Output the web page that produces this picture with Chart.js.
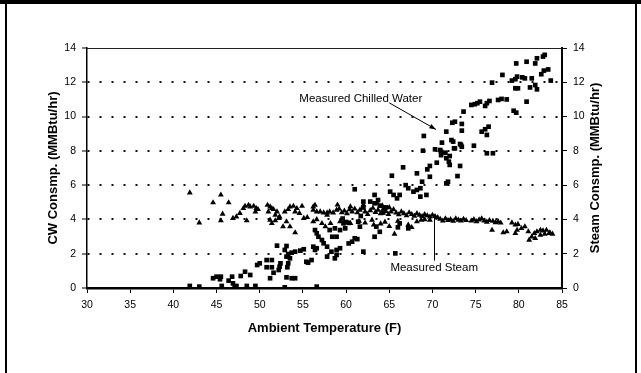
<!DOCTYPE html>
<html>
<head>
<meta charset="utf-8">
<script src="https://cdn.jsdelivr.net/npm/chart.js@4.4.0/dist/chart.umd.min.js"></script>
<style>
  html, body { margin: 0; padding: 0; background: #fff; }
  #wrap { width: 641px; height: 373px; }
</style>
</head>
<body>
<div id="wrap"><canvas id="c" width="641" height="373"></canvas></div>
<script>
// chilled water points (ambient temp F, MMBtu/hr)
const cwTemp = [
  41.9, 43.0, 44.6, 45.0, 45.4, 45.5, 45.6, 46.4, 46.8, 46.9, 47.1, 47.3, 47.8, 48.3, 48.9, 48.5, 49.5,
  49.7, 50.0, 50.8, 51.4, 50.8, 51.4, 51.2, 51.6, 52.0, 53.1, 52.2, 52.3, 52.4, 53.5, 53.3, 53.2, 53.1,
  54.1, 53.7, 52.9, 53.3, 53.1, 53.7, 54.1, 54.7, 55.1, 55.4, 56.0, 55.6, 56.2, 56.6, 56.4, 57.8, 58.3,
  58.9, 58.7, 56.4, 56.6, 56.8, 57.2, 57.4, 57.8, 58.1, 58.7, 58.4, 56.6, 52.9,
  59.7, 59.9, 59.3, 61.6, 61.4, 63.5, 63.9, 63.3, 66.2, 66.0, 67.2, 61.0, 60.7, 60.3, 59.3, 58.9, 62.0,
  65.7, 58.9, 61.0, 62.0, 63.3, 63.7, 62.8, 63.3, 65.1, 65.5, 66.2, 65.9, 66.9, 67.2, 67.8, 68.2, 68.6,
  69.3, 68.6, 68.8, 69.7, 68.2, 66.6, 68.9, 69.4, 69.7, 70.5, 71.6, 71.9, 72.0, 71.0, 71.0, 71.1, 72.4,
  73.3, 74.8, 72.6, 73.2, 72.9, 71.8, 71.6, 65.3, 60.0, 59.6, 60.3, 61.7, 62.0, 63.9, 64.3, 64.6, 61.3,
  83.0, 82.8, 82.1, 80.9, 81.9, 79.7, 83.4, 82.9, 82.6, 78.1, 79.8, 80.4, 80.7, 81.5, 79.2, 79.6, 83.7,
  76.9, 79.6, 79.9, 81.3, 81.9, 82.1, 80.9, 78.0, 78.6, 77.6, 76.6, 76.3, 75.5, 75.2, 74.5, 74.9, 76.1,
  79.4, 79.7, 73.6, 72.6, 72.3, 73.4, 73.4, 71.6, 69.0, 76.5, 76.1, 75.7, 76.3, 72.2, 73.2, 73.4, 72.5,
  76.3, 77.0, 70.3, 70.9, 71.5, 72.0
];
const cwLoad = [
  0.12, 0.08, 0.57, 0.66, 0.51, 0.66, 0.12, 0.43, 0.66, 0.27, 0.04, 0.12, 0.70, 0.95, 0.76, 0.12, 0.12,
  1.34, 1.44, 1.63, 1.63, 1.21, 1.21, 0.57, 0.89, 2.47, 2.45, 1.05, 1.24, 1.44, 1.73, 1.44, 1.21, 0.62,
  0.57, 0.57, 2.22, 1.98, 1.83, 2.06, 2.12, 2.18, 2.26, 1.53, 1.63, 1.48, 2.41, 2.32, 2.22, 1.83, 2.12,
  1.93, 1.73, 3.38, 3.19, 2.99, 2.80, 2.61, 2.41, 3.38, 3.48, 2.99, 0.08, 0.04,
  3.77, 3.48, 3.38, 3.58, 3.87, 3.58, 3.28, 2.99, 3.77, 3.54, 3.48, 2.90, 2.70, 2.60, 2.32, 2.22, 2.12,
  2.02, 2.99, 5.76, 5.04, 5.43, 5.13, 5.04, 4.94, 5.62, 5.43, 5.43, 5.23, 6.00, 5.82, 5.62, 5.72, 5.82,
  5.43, 5.33, 6.20, 6.49, 6.69, 7.04, 8.01, 6.92, 7.12, 7.31, 7.57, 7.37, 7.18, 7.95, 7.75, 8.48, 8.54,
  8.34, 8.30, 8.15, 7.12, 6.53, 6.20, 6.10, 6.55, 3.85, 4.05, 3.80, 4.20, 4.70, 4.80, 4.40, 4.70, 2.85,
  13.60, 13.50, 13.40, 13.20, 13.10, 13.10, 12.75, 12.68, 12.47, 12.43, 12.33, 12.29, 12.23, 12.23, 12.10, 12.18, 12.10,
  11.98, 11.65, 11.65, 11.70, 11.84, 11.59, 10.87, 11.03, 11.00, 10.97, 10.91, 10.78, 10.87, 10.78, 10.68, 10.72, 10.62,
  10.34, 10.23, 10.29, 9.70, 9.64, 9.57, 9.18, 9.12, 8.87, 9.41, 9.26, 9.12, 8.93, 8.63, 8.40, 8.24, 8.15,
  7.86, 7.86, 8.09, 8.05, 7.89, 7.70
];

// steam points (ambient temp F, MMBtu/hr)
const stTemp = [
  41.9, 43.0, 44.6, 45.5, 46.4, 45.7, 45.5, 46.9, 47.3, 47.7, 48.1, 48.3, 48.7, 48.9, 49.3, 49.6, 49.5,
  49.8, 48.5, 50.9, 51.2, 51.0, 51.4, 51.6, 52.0, 51.8, 52.3, 52.2, 51.8, 51.2, 51.4, 52.9, 53.3, 53.5,
  53.9, 54.3, 54.1, 54.6, 54.9, 53.1, 52.7, 53.5, 54.1, 55.1, 55.5, 56.2, 56.4, 56.2, 56.6, 57.0, 57.4,
  57.8, 58.1, 58.5, 58.9, 57.8, 56.2, 56.6, 57.2, 57.6, 58.2,
  59.2, 59.5, 59.8, 60.1, 60.4, 60.7, 61.0, 61.3, 61.6, 61.9, 62.2, 62.5, 62.8, 63.1, 63.4, 63.7, 64.0,
  64.3, 64.6, 64.9, 65.2, 65.5, 65.8, 66.1, 66.4, 66.7, 67.0, 67.3, 67.6, 67.9, 68.2, 68.5, 68.8, 69.1,
  69.4, 69.7, 70.0, 70.3, 70.6, 59.0, 60.5, 62.0, 63.6, 64.2, 65.0,
  59.3, 60.5, 63.0, 63.2, 65.6, 67.2, 67.6, 68.2, 68.7, 69.1, 69.7, 61.5, 62.2, 64.5, 66.0, 65.0, 64.0,
  70.9, 71.2, 71.5, 71.8, 72.1, 72.4, 72.7, 73.0, 73.3, 73.6, 73.9, 74.5, 74.8, 75.1, 75.4, 75.7, 76.0,
  76.3, 76.6, 77.0, 77.3, 77.6, 77.9,
  76.9, 78.2, 78.6, 79.2, 79.6, 79.9, 79.8, 79.6, 80.3, 80.7, 81.1, 81.2, 81.5, 81.8, 82.1, 82.5, 82.8,
  83.2, 83.6, 83.9, 81.9, 82.5, 83.0, 83.5
];
const stLoad = [
  5.56, 3.81, 4.98, 5.43, 4.98, 4.32, 3.93, 4.07, 4.16, 4.36, 4.65, 4.78, 4.84, 4.74, 4.78, 4.65, 4.45,
  4.59, 3.93, 4.84, 4.74, 4.45, 4.65, 4.59, 4.45, 4.26, 4.16, 4.07, 3.93, 3.97, 3.77, 4.45, 4.59, 4.74,
  4.78, 4.65, 4.45, 4.36, 4.78, 3.87, 3.58, 3.58, 3.23, 4.07, 4.12, 4.74, 4.84, 4.55, 4.45, 4.45, 4.39,
  4.39, 4.45, 4.39, 4.55, 4.26, 3.87, 4.00, 3.77, 3.58, 3.77,
  4.62, 4.40, 4.50, 4.35, 4.58, 4.45, 4.62, 4.40, 4.55, 4.68, 4.45, 4.30, 4.52, 4.66, 4.42, 4.55, 4.35,
  4.60, 4.48, 4.30, 4.45, 4.58, 4.38, 4.28, 4.45, 4.35, 4.22, 4.40, 4.30, 4.20, 4.35, 4.25, 4.18, 4.30,
  4.22, 4.15, 4.25, 4.18, 4.12, 4.85, 4.75, 4.85, 4.95, 4.80, 4.70,
  3.87, 3.77, 3.97, 3.68, 3.15, 3.68, 3.54, 3.87, 3.97, 4.00, 3.97, 3.90, 3.80, 3.85, 3.90, 3.60, 3.75,
  4.02, 3.92, 4.05, 3.95, 4.00, 3.90, 4.05, 3.97, 3.92, 4.02, 3.95, 3.92, 4.00, 3.88, 3.98, 4.05, 3.92,
  3.85, 3.95, 3.90, 3.82, 3.88, 3.80,
  3.38, 3.23, 3.29, 3.81, 3.68, 3.72, 3.38, 3.19, 3.48, 3.58, 3.29, 2.80, 2.99, 3.19, 3.29, 3.38, 3.34,
  3.38, 3.23, 3.15, 2.90, 3.09, 3.15, 3.19
];

const xTicks = { min: 30, max: 85, step: 5 };
const yTicks = { min: 0, max: 14, step: 2 };

// callouts, in data units
const cwNote = { text: 'Measured Chilled Water', x: 61.7, y: 11.05, fromX: 65.0, fromY: 10.8, toX: 70.4, toY: 9.25 };
const stNote = { text: 'Measured Steam', x: 70.2, y: 1.2, lineX: 70.2, fromY: 4.1, toY: 1.6 };

const tickFont = { family: 'Liberation Sans', size: 10.5 };
const titleFont = { family: 'Liberation Sans', size: 13, weight: 'bold' };

const decor = {
  id: 'decor',
  beforeDraw(chart) {
    const ctx = chart.ctx;
    ctx.save();
    ctx.fillStyle = '#fff';
    ctx.fillRect(0, 0, chart.width, chart.height);
    ctx.restore();
  },
  afterDraw(chart) {
    const { ctx, chartArea: a, scales } = chart;
    const x = scales.x, y = scales.y;
    ctx.save();
    // page frame
    ctx.fillStyle = '#000';
    ctx.fillRect(0, 0, chart.width, 4);
    ctx.fillRect(5, 0, 2, chart.height);
    ctx.fillRect(635, 0, 2, chart.height);
    // top edge of plot
    ctx.strokeStyle = '#222';
    ctx.lineWidth = 1;
    ctx.beginPath();
    ctx.moveTo(a.left, a.top + 0.5);
    ctx.lineTo(a.right, a.top + 0.5);
    ctx.stroke();

    // right axis title, reads upward like the left one
    ctx.fillStyle = '#000';
    ctx.font = 'bold 13px "Liberation Sans"';
    ctx.textAlign = 'center';
    ctx.textBaseline = 'middle';
    ctx.translate(595, (a.top + a.bottom) / 2);
    ctx.rotate(-Math.PI / 2);
    ctx.fillText('Steam Consmp. (MMBtu/hr)', 0, 0);
    ctx.restore();

    // callouts
    ctx.save();
    ctx.fillStyle = '#000';
    ctx.strokeStyle = '#000';
    ctx.font = '11.5px "Liberation Sans"';
    ctx.textAlign = 'center';
    ctx.textBaseline = 'middle';
    ctx.fillText(cwNote.text, x.getPixelForValue(cwNote.x), y.getPixelForValue(cwNote.y));
    const x1 = x.getPixelForValue(cwNote.fromX), y1 = y.getPixelForValue(cwNote.fromY);
    const x2 = x.getPixelForValue(cwNote.toX), y2 = y.getPixelForValue(cwNote.toY);
    ctx.lineWidth = 1;
    ctx.beginPath();
    ctx.moveTo(x1, y1);
    ctx.lineTo(x2, y2);
    ctx.stroke();
    const ang = Math.atan2(y2 - y1, x2 - x1);
    ctx.beginPath();
    ctx.moveTo(x2, y2);
    ctx.lineTo(x2 - 7 * Math.cos(ang - 0.35), y2 - 7 * Math.sin(ang - 0.35));
    ctx.lineTo(x2 - 7 * Math.cos(ang + 0.35), y2 - 7 * Math.sin(ang + 0.35));
    ctx.closePath();
    ctx.fill();

    ctx.fillText(stNote.text, x.getPixelForValue(stNote.x), y.getPixelForValue(stNote.y));
    const lx = Math.round(x.getPixelForValue(stNote.lineX)) + 0.5;
    ctx.beginPath();
    ctx.moveTo(lx, y.getPixelForValue(stNote.fromY));
    ctx.lineTo(lx, y.getPixelForValue(stNote.toY));
    ctx.stroke();
    ctx.restore();
  }
};

new Chart(document.getElementById('c'), {
  type: 'scatter',
  data: {
    datasets: [
      {
        label: 'Measured Chilled Water',
        data: cwTemp.map((t, i) => ({ x: t, y: cwLoad[i] })),
        pointStyle: 'rect',
        pointRadius: 3.3,
        backgroundColor: '#000',
        borderColor: '#000',
        borderWidth: 0,
        yAxisID: 'y'
      },
      {
        label: 'Measured Steam',
        data: stTemp.map((t, i) => ({ x: t, y: stLoad[i] })),
        pointStyle: 'triangle',
        pointRadius: 3.4,
        backgroundColor: '#000',
        borderColor: '#000',
        borderWidth: 0,
        yAxisID: 'y2'
      }
    ]
  },
  options: {
    responsive: false,
    animation: false,
    devicePixelRatio: 1,
    layout: { padding: { top: 48, left: 42, right: 35, bottom: 33 } },
    plugins: { legend: { display: false }, tooltip: { enabled: false } },
    scales: {
      x: {
        type: 'linear',
        min: xTicks.min,
        max: xTicks.max,
        afterFit(s) { s.height = 52; },
        ticks: { stepSize: xTicks.step, color: '#000', font: tickFont, padding: 6, maxRotation: 0 },
        grid: { drawOnChartArea: false, tickLength: 5, tickColor: '#000' },
        border: { color: '#000', width: 2.5 },
        title: { display: true, text: 'Ambient Temperature (F)', color: '#000', font: titleFont }
      },
      y: {
        position: 'left',
        min: yTicks.min,
        max: yTicks.max,
        afterFit(s) { s.width = 45; },
        ticks: { stepSize: yTicks.step, color: '#000', font: tickFont, padding: 6 },
        grid: {
          color: c => (c.tick && (c.tick.value === 0 || c.tick.value === 14)) ? 'rgba(0,0,0,0)' : '#111',
          lineWidth: 2,
          tickLength: 5,
          tickColor: '#000',
          tickWidth: 1
        },
        border: { color: '#000', width: 1.5, dash: [2, 10] },
        title: { display: true, text: 'CW Consmp. (MMBtu/hr)', color: '#000', font: titleFont }
      },
      y2: {
        position: 'right',
        min: yTicks.min,
        max: yTicks.max,
        afterFit(s) { s.width = 44; },
        ticks: { stepSize: yTicks.step, color: '#000', font: tickFont, padding: 6 },
        grid: { drawOnChartArea: false, tickLength: 5, tickColor: '#000' },
        border: { color: '#000', width: 2 }
      }
    }
  },
  plugins: [decor]
});
</script>
</body>
</html>
